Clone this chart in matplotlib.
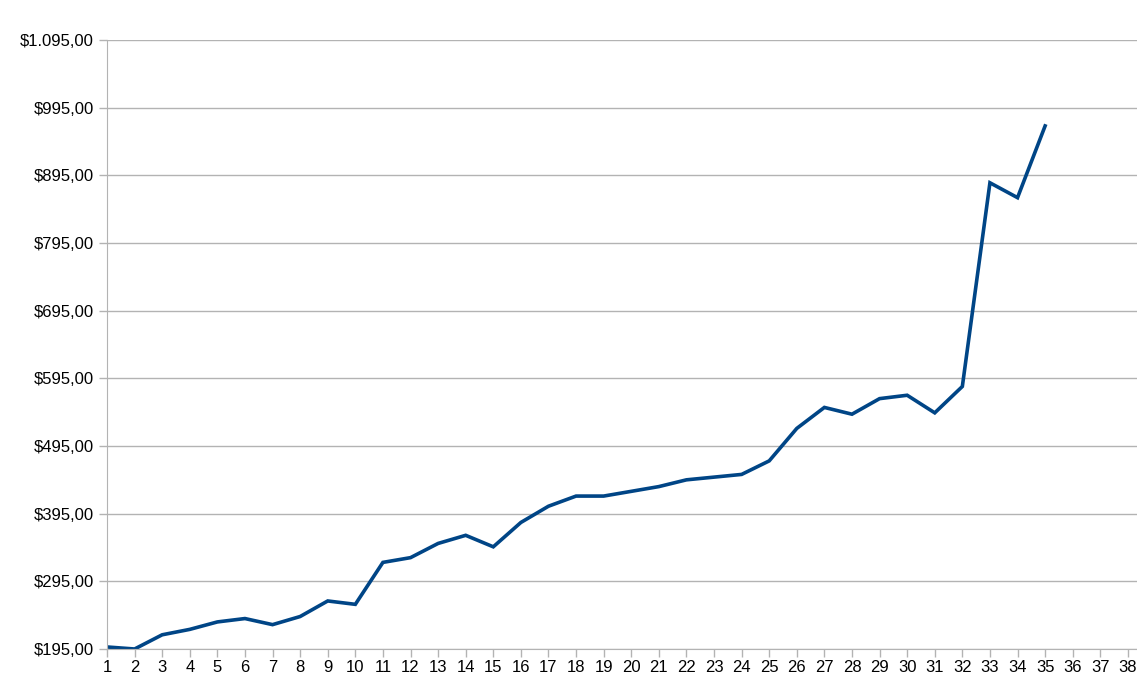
import matplotlib
matplotlib.use("Agg")
import matplotlib.pyplot as plt
from matplotlib.ticker import FuncFormatter

# valores
periods = list(range(1, 36))
values = [198, 195, 216, 224, 235, 240, 231, 243, 266, 261,
          323, 330, 351, 363, 346, 382, 406, 421, 421, 428,
          435, 445, 449, 453, 473, 521, 552, 542, 565, 570,
          544, 583, 884, 862, 968]
x_ticks = list(range(1, 39))
y_ticks = list(range(195, 1096, 100))


def money(v, pos):
    s = f"{v:,.2f}"
    s = s.replace(",", "X").replace(".", ",").replace("X", ".")
    return "$" + s


plt.rcParams['font.family'] = ['Liberation Sans', 'DejaVu Sans']

fig = plt.figure(figsize=(11.37, 6.88), dpi=100)
ax = fig.add_axes([107 / 1137, 39 / 688, 1 - 107 / 1137, 609 / 688])

ax.plot(periods, values, color='#004586', linewidth=2.6, solid_joinstyle='miter')

ax.set_xlim(1, 38.33)
ax.set_ylim(195, 1095)
ax.set_xticks(x_ticks)
ax.set_yticks(y_ticks)
ax.yaxis.set_major_formatter(FuncFormatter(money))

ax.grid(axis='y', color='#b3b3b3', linewidth=1)
ax.set_axisbelow(True)
for side in ['top', 'right']:
    ax.spines[side].set_visible(False)
for side in ['left', 'bottom']:
    ax.spines[side].set_color('#b3b3b3')
ax.tick_params(axis='both', colors='#b3b3b3', labelcolor='black', labelsize=12,
               length=6, width=1)
ax.tick_params(axis='x', pad=2)

fig.savefig('out.png', dpi=100)
